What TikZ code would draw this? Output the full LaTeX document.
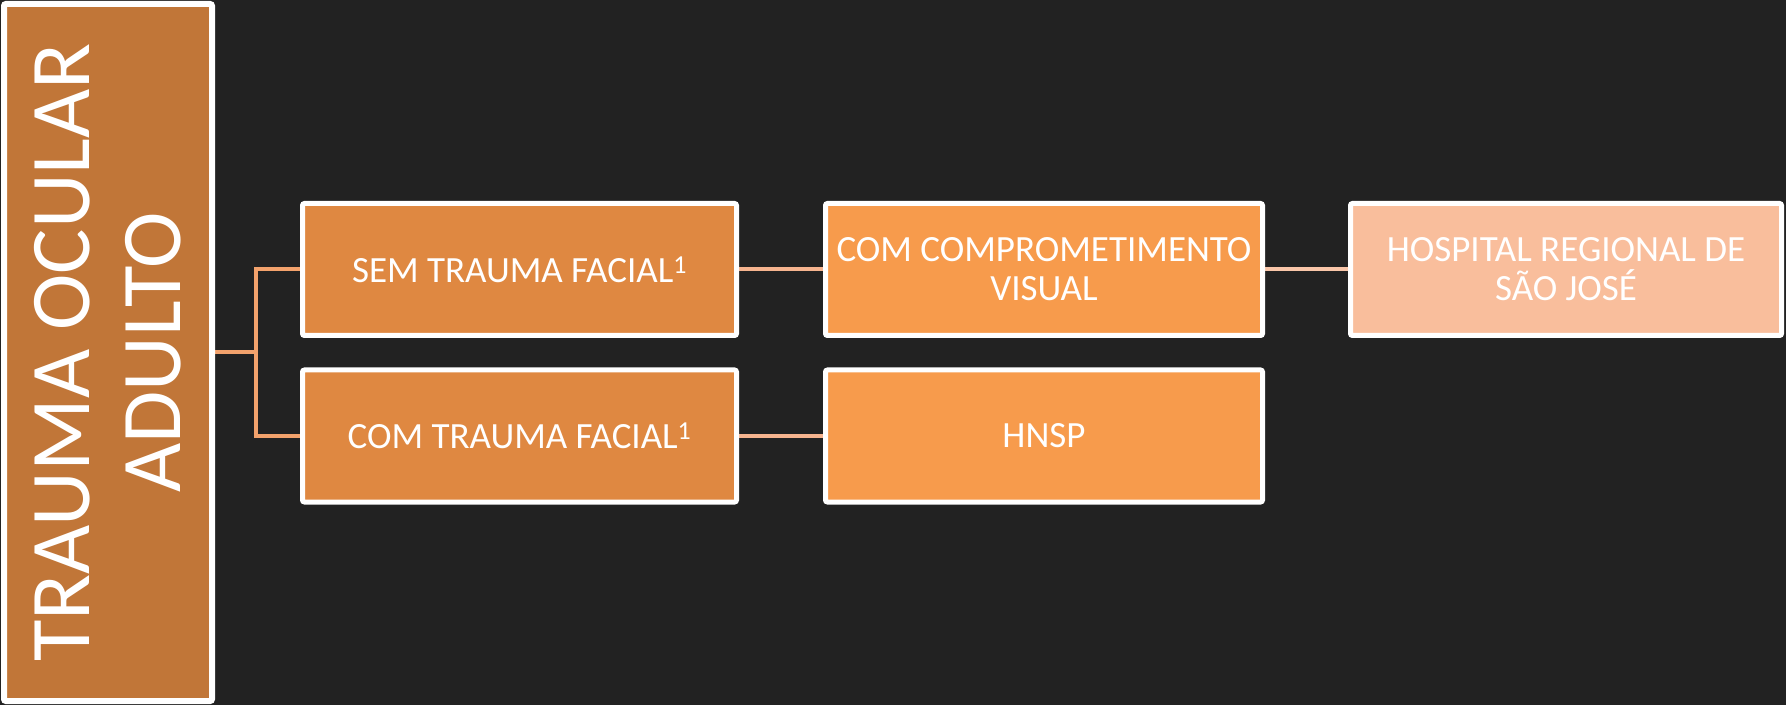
\documentclass[tikz,border=0pt]{standalone}
\usepackage{fontspec}
\setmainfont{Carlito}
\usepackage{tikz}
\usetikzlibrary{positioning,backgrounds}
\definecolor{bgdark}{HTML}{222222}
\definecolor{rootfill}{HTML}{C17638}
\definecolor{lvlone}{HTML}{DF8841}
\definecolor{lvltwo}{HTML}{F79B4C}
\definecolor{lvlthree}{HTML}{F9BE9C}
\definecolor{rootline}{HTML}{F3A26C}
\definecolor{midline}{HTML}{F6B48F}
\definecolor{farline}{HTML}{F9C6A9}

\begin{document}
\begin{tikzpicture}[x=1pt, y=1pt,
  box/.style={rectangle, draw=white, line width=5pt, rounded corners=2pt, text=white, align=center,
    minimum width=434pt, minimum height=132pt, inner sep=0pt, font=\fontsize{37}{39}\selectfont},
  link/.style={line width=4pt}]
  \useasboundingbox (0,0) rectangle (1786,705);

  \node (root) [box, fill=rootfill, line width=6pt, rotate=90, minimum width=697pt, minimum height=208pt,
    font=\fontsize{85}{91}\selectfont] at (108,352.5) {TRAUMA OCULAR\\ADULTO};

  \node (a1) [box, fill=lvlone] at (519.5,435.5) {SEM TRAUMA FACIAL\textsuperscript{1}};
  \node (a2) [box, fill=lvlone] at (519.5,269) {COM TRAUMA FACIAL\textsuperscript{1}};

  \node (b1) [box, fill=lvltwo, minimum width=437pt] at (1044,435.5) {COM COMPROMETIMENTO\\VISUAL};
  \node (b2) [box, fill=lvltwo, minimum width=437pt] at (1044,269) {HNSP};

  \node (c1) [box, fill=lvlthree, minimum width=431pt] at (1566,435.5) {HOSPITAL REGIONAL DE\\SÃO JOSÉ};

  \begin{scope}[on background layer]
    \fill[bgdark] (0,0) rectangle (1786,705);
    \coordinate (j) at (256,352.5);
    \draw [link, rootline] (root.center) -- (j);
    \draw [link, rootline] (a1.west) -| (j) |- (a2.west);
    \draw [link, midline] (a1) -- (b1)
                          (a2) -- (b2);
    \draw [link, farline] (b1) -- (c1);
  \end{scope}
\end{tikzpicture}
\end{document}
